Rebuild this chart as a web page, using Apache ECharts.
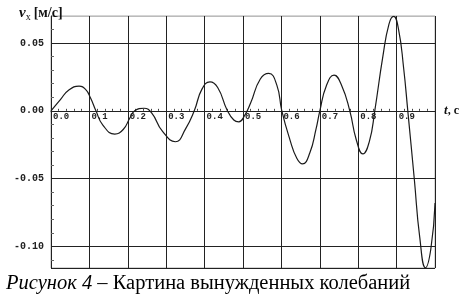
<!DOCTYPE html>
<html>
<head>
<meta charset="utf-8">
<script src="https://cdn.jsdelivr.net/npm/echarts@6/dist/echarts.min.js"></script>
<style>
html,body{margin:0;padding:0;background:#fff;}
#c{width:462px;height:298px;}
</style>
</head>
<body>
<div id="c"></div>
<script>
// time, s
const tValues = [0, 0.025, 0.045, 0.073, 0.090, 0.103, 0.117, 0.135, 0.166, 0.188,
  0.205, 0.218, 0.242, 0.262, 0.290, 0.324, 0.350, 0.373, 0.393, 0.414,
  0.434, 0.459, 0.476, 0.489, 0.503, 0.520, 0.545, 0.567, 0.588, 0.601,
  0.622, 0.640, 0.655, 0.674, 0.690, 0.700, 0.717, 0.737, 0.757, 0.778,
  0.795, 0.812, 0.829, 0.843, 0.864, 0.880, 0.892, 0.905, 0.918, 0.929,
  0.946, 0.960, 0.975, 0.989, 1.0];
// velocity v_x, m/s
const vValues = [0, 0.0085, 0.0150, 0.0182, 0.0158, 0.0095, 0, -0.0105, -0.0172, -0.0138,
  -0.0055, 0, 0.0019, -0.0015, -0.0150, -0.0228, -0.0135, 0, 0.0160, 0.0214,
  0.0172, 0.0003, -0.0068, -0.0081, -0.0040, 0.0060, 0.0235, 0.0276, 0.0190, 0,
  -0.0212, -0.0350, -0.0392, -0.0310, -0.0135, 0, 0.0185, 0.0263, 0.0185, 0,
  -0.0215, -0.0318, -0.0225, 0, 0.0400, 0.0640, 0.0697, 0.0600, 0.0320, 0,
  -0.0505, -0.0930, -0.1158, -0.1020, -0.0680];
const xTickLabels = ['0.0','0.1','0.2','0.3','0.4','0.5','0.6','0.7','0.8','0.9'];
const yTickLabels = {'0.05':'0.05','0':'0.00','-0.05':'-0.05','-0.1':'-0.10'};
const xMin = 0, xMax = 1.0, yMin = -0.116, yMax = 0.07;
const captionItalic = 'Рисунок 4';
const captionRest = ' – Картина вынужденных колебаний';

const seriesData = tValues.map((t, i) => [t, vValues[i]]);
const chart = echarts.init(document.getElementById('c'), null, {renderer: 'canvas'});
const mono = 'Liberation Mono';
const serif = 'Liberation Serif';
chart.setOption({
  animation: false,
  backgroundColor: '#fff',
  title: [{
    left: 14, top: 0,
    text: '{v|v}{s|x}{u|[м/с]}',
    textStyle: {
      rich: {
        v: {fontFamily: serif, fontStyle: 'italic', fontWeight: 'bold', fontSize: 15, color: '#111'},
        s: {fontFamily: serif, fontWeight: 'normal', fontSize: 10, color: '#111', padding: [7, 3, 0, 0]},
        u: {fontFamily: serif, fontWeight: 'bold', fontSize: 14, color: '#111'}
      }
    }
  }, {
    left: 1, top: 268,
    text: '{i|' + captionItalic + '}{n|' + captionRest + '}',
    textStyle: {
      rich: {
        i: {fontFamily: serif, fontStyle: 'italic', fontWeight: 'normal', fontSize: 20.5, color: '#000'},
        n: {fontFamily: serif, fontWeight: 'normal', fontSize: 20.5, color: '#000'}
      }
    }
  }],
  grid: {left: 51, top: 16, right: 25, bottom: 30, show: true, borderColor: '#aaa', borderWidth: 1},
  xAxis: {
    type: 'value', min: xMin, max: xMax, interval: 0.1,
    name: '{t|t}{c|, c}',
    nameLocation: 'end', nameGap: 9,
    nameTextStyle: {
      rich: {
        t: {fontFamily: serif, fontStyle: 'italic', fontWeight: 'bold', fontSize: 13, color: '#111'},
        c: {fontFamily: serif, fontWeight: 'bold', fontSize: 12, color: '#111'}
      }
    },
    axisLine: {onZero: false, lineStyle: {color: '#222', width: 1}},
    axisTick: {show: false, inside: true},
    minorTick: {show: true, splitNumber: 5, length: 2, lineStyle: {color: '#444'}},
    axisLabel: {
      showMaxLabel: false, align: 'left', verticalAlign: 'top', margin: 1,
      padding: [0, 0, 0, 2],
      fontFamily: mono, fontWeight: 'bold', fontSize: 9, color: '#222',
      formatter: (v) => { const i = Math.round(v * 10); return xTickLabels[i] || ''; }
    },
    splitLine: {show: true, lineStyle: {color: '#222', width: 1}}
  },
  yAxis: {
    type: 'value', min: yMin, max: yMax, splitNumber: 4,
    axisLine: {show: true, lineStyle: {color: '#222', width: 1}},
    axisTick: {show: false, inside: true},
    minorTick: {show: true, splitNumber: 5, length: 3, lineStyle: {color: '#666'}},
    axisLabel: {
      showMinLabel: false, showMaxLabel: false, margin: 7,
      fontFamily: mono, fontWeight: 'bold', fontSize: 10, color: '#222',
      formatter: (v) => yTickLabels[String(Math.round(v * 100) / 100)] || ''
    },
    splitLine: {show: true, lineStyle: {color: ['#222', '#222', '#222', '#222', '#222', '#bbb']}}
  },
  series: [{
    type: 'line', data: seriesData,
    showSymbol: false, smooth: 0.5, clip: true,
    lineStyle: {color: '#1a1a1a', width: 1.2}
  }]
});
// move the x axis (line, labels, name) onto v = 0 using the library's own scale
const zeroY = chart.convertToPixel({yAxisIndex: 0}, 0);
const bottomY = chart.convertToPixel({yAxisIndex: 0}, yMin);
chart.setOption({xAxis: {offset: zeroY - bottomY}});
</script>
</body>
</html>
